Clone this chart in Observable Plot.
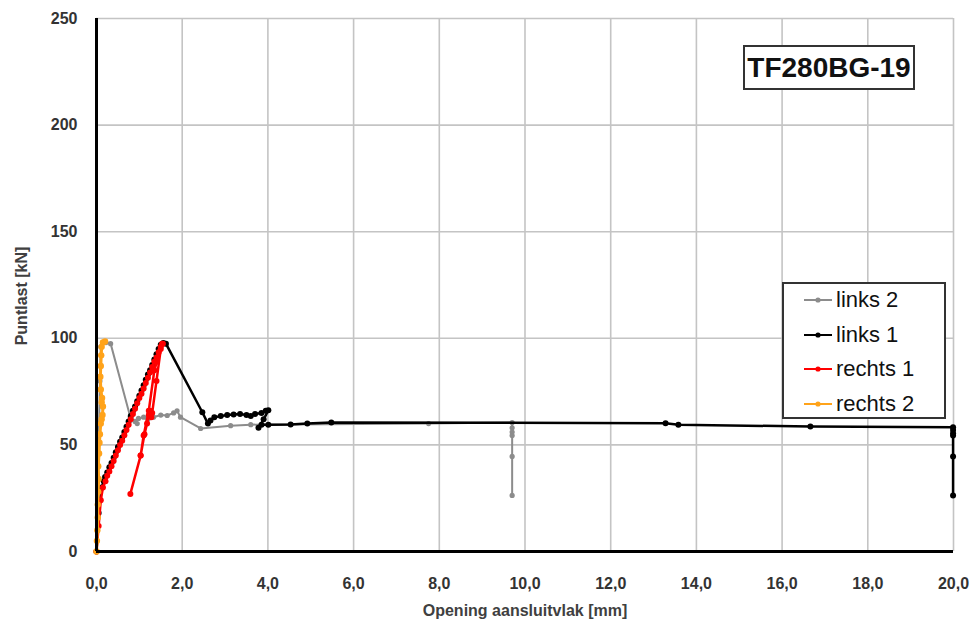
<!DOCTYPE html>
<html>
<head>
<meta charset="utf-8">
<script src="https://cdn.jsdelivr.net/npm/d3@7"></script>
<script src="https://cdn.jsdelivr.net/npm/@observablehq/plot@0.6"></script>
<style>
  body { margin: 0; background: #fff; font-family: "Liberation Sans", Arial, sans-serif; }
  #wrap { position: relative; width: 976px; height: 631px; overflow: hidden; }
  #wrap svg { position: absolute; left: 0; top: 0; }
  .title-box { position: absolute; left: 743px; top: 45px; width: 168px; height: 41px; border: 2px solid #333;
    background: #fff; font-weight: bold; font-size: 28px; line-height: 41px; text-align: center; color: #111; }
  .legend { position: absolute; left: 782px; top: 282px; width: 160px; height: 133px; border: 2px solid #333; background: #fff; }
  .legend .row { position: absolute; left: 20px; height: 30px; display: flex; align-items: center; font-size: 22px; color: #111; }
  .legend svg { position: static !important; margin-right: 4px; }
  .xtitle { position: absolute; left: 0; width: 1050px; top: 602px; text-align: center; font-weight: bold; font-size: 16px; color: #404040; }
  .ytitle { position: absolute; left: 22px; top: 296px; transform: translate(-50%, -50%) rotate(-90deg); white-space: nowrap;
    font-weight: bold; font-size: 16px; color: #404040; }
</style>
</head>
<body>
<div id="wrap"></div>
<script>
// ---- data ----
const xTicks = [0, 2, 4, 6, 8, 10, 12, 14, 16, 18, 20];
const yTicks = [0, 50, 100, 150, 200, 250];
const seriesNames = ["links 2", "links 1", "rechts 1", "rechts 2"];
const seriesColors = ["#8c8c8c", "#000000", "#ff0000", "#ffa31a"];

const links2X = [0, 0.03, 0.06, 0.08, 0.1, 0.15, 0.22, 0.33, 0.79, 0.95, 0.9, 0.98, 1.1, 1.2, 1.33, 1.5, 1.65, 1.8, 1.88, 1.96, 2.43, 3.13, 3.6, 7.75, 9.7, 9.7, 9.7, 9.7, 9.7, 9.7];
const links2Y = [0, 30, 60, 80, 96, 98, 98, 97.5, 63, 60, 61, 62.4, 63, 62, 63, 64, 63.8, 65, 66, 63, 57.7, 59, 59.5, 60, 60.5, 58, 56, 54.4, 44.6, 26.3];

const links1X = [0, 0.05, 0.12, 0.17, 0.2, 0.25, 0.3, 0.35, 0.4, 0.45, 0.5, 0.55, 0.6, 0.65, 0.7, 0.75, 0.8, 0.85, 0.9, 0.95, 1.0, 1.05, 1.1, 1.15, 1.2, 1.25, 1.3, 1.35, 1.4, 1.45, 1.5, 1.56, 1.62, 2.47, 2.6, 2.66, 2.75, 2.9, 3.05, 3.2, 3.35, 3.5, 3.6, 3.7, 3.85, 3.95, 4.01, 3.9, 3.78, 3.85, 4.01, 4.53, 4.92, 5.48, 13.28, 13.58, 16.66, 19.99, 19.99, 19.99, 19.99, 19.99, 19.99];
const links1Y = [0, 18, 30, 33, 35, 37, 39.5, 41.5, 44, 46.5, 49, 51.5, 53.5, 56, 58.5, 61, 63.5, 66, 68, 70.5, 73, 75.5, 78, 80.5, 83, 85, 87.5, 90, 92.5, 95, 97, 97.8, 97.5, 65.3, 60, 61.4, 63, 63.5, 64, 64.3, 64.5, 64, 63.5, 64.5, 65, 66, 66.2, 62, 58, 59.5, 59.5, 59.6, 60, 60.5, 60.2, 59.5, 58.6, 58.3, 57, 55.5, 54.4, 44.6, 26.3];

const rechts1X = [0, 0.05, 0.1, 0.15, 0.21, 0.25, 0.3, 0.35, 0.4, 0.45, 0.5, 0.55, 0.6, 0.65, 0.7, 0.75, 0.8, 0.85, 0.9, 0.95, 1.0, 1.05, 1.1, 1.15, 1.2, 1.25, 1.3, 1.35, 1.4, 1.45, 1.5, 1.53, 1.35, 1.22, 1.1, 1.03, 0.79, 1.03, 1.12, 1.18, 1.22, 1.25, 1.28, 1.3, 1.4, 1.5, 1.55];
const rechts1Y = [0, 12, 24, 30, 33, 35.5, 37.5, 40, 42.5, 45, 47.5, 50, 52, 54.5, 57, 59.5, 62, 64.5, 67, 69.5, 72, 74, 76.5, 79, 81.5, 84, 86.5, 89, 91, 93.5, 96, 97.4, 85, 66, 54.4, 45, 27, 45, 55, 60, 64, 66, 63, 65, 80, 95, 97.5];

const rechts2X = [0, 0.01, 0.02, 0.03, 0.03, 0.04, 0.05, 0.04, 0.06, 0.07, 0.08, 0.1, 0.12, 0.14, 0.15, 0.12, 0.13, 0.1, 0.09, 0.1, 0.11, 0.12, 0.15, 0.2];
const rechts2Y = [0, 5, 10, 16, 22, 28, 34, 40, 46, 51, 55, 60, 62, 64, 68, 70, 72, 76, 82, 87, 92, 96, 98, 98.5];

const seriesX = [links2X, links1X, rechts1X, rechts2X];
const seriesY = [links2Y, links1Y, rechts1Y, rechts2Y];

// ---- build table ----
const rows = [];
seriesNames.forEach((name, i) => {
  seriesX[i].forEach((x, j) => rows.push({series: name, x, y: seriesY[i][j], order: j}));
});

const fmt = d => d.toFixed(1).replace(".", ",");
const marks = [
  Plot.ruleX(xTicks, {stroke: "#c4c4c4", strokeWidth: 1.6}),
  Plot.ruleY(yTicks, {stroke: "#c4c4c4", strokeWidth: 1.6}),
];
const widths = [2, 2.5, 2.5, 3];
const radii = [2.6, 3, 3, 3.2];
seriesNames.forEach((name, i) => {
  const d = rows.filter(r => r.series === name);
  marks.push(Plot.line(d, {x: "x", y: "y", stroke: seriesColors[i], strokeWidth: widths[i]}));
  marks.push(Plot.dot(d, {x: "x", y: "y", fill: seriesColors[i], r: radii[i], stroke: "none"}));
});
marks.push(Plot.ruleX([0], {stroke: "#000", strokeWidth: 3}));
marks.push(Plot.ruleY([0], {stroke: "#000", strokeWidth: 3}));

const chart = Plot.plot({
  width: 976,
  height: 631,
  marginLeft: 96,
  marginRight: 23,
  marginTop: 18,
  marginBottom: 80,
  style: {fontFamily: "'Liberation Sans', Arial, sans-serif", fontSize: "16px", fontWeight: "bold", color: "#333", background: "#fff"},
  x: {domain: [0, 20], ticks: xTicks, tickFormat: fmt, tickSize: 0, tickPadding: 26, label: null},
  y: {domain: [0, 250], ticks: yTicks, tickSize: 0, tickPadding: 19, label: null},
  marks
});

const wrap = document.getElementById("wrap");
wrap.appendChild(chart);

const title = document.createElement("div");
title.className = "title-box";
title.textContent = "TF280BG-19";
wrap.appendChild(title);

const xt = document.createElement("div");
xt.className = "xtitle";
xt.textContent = "Opening aansluitvlak [mm]";
wrap.appendChild(xt);

const yt = document.createElement("div");
yt.className = "ytitle";
yt.textContent = "Puntlast [kN]";
wrap.appendChild(yt);

const legend = document.createElement("div");
legend.className = "legend";
seriesNames.forEach((name, i) => {
  const row = document.createElement("div");
  row.className = "row";
  row.style.top = (1 + i * 34.7) + "px";
  const ns = "http://www.w3.org/2000/svg";
  const s = document.createElementNS(ns, "svg");
  s.setAttribute("width", 28); s.setAttribute("height", 10);
  const l = document.createElementNS(ns, "line");
  l.setAttribute("x1", 0); l.setAttribute("x2", 28); l.setAttribute("y1", 5); l.setAttribute("y2", 5);
  l.setAttribute("stroke", seriesColors[i]); l.setAttribute("stroke-width", 2);
  const c = document.createElementNS(ns, "circle");
  c.setAttribute("cx", 14); c.setAttribute("cy", 5); c.setAttribute("r", 2.6); c.setAttribute("fill", seriesColors[i]);
  s.appendChild(l); s.appendChild(c);
  row.appendChild(s);
  const t = document.createElement("span");
  t.textContent = name;
  row.appendChild(t);
  legend.appendChild(row);
});
wrap.appendChild(legend);
</script>
</body>
</html>
